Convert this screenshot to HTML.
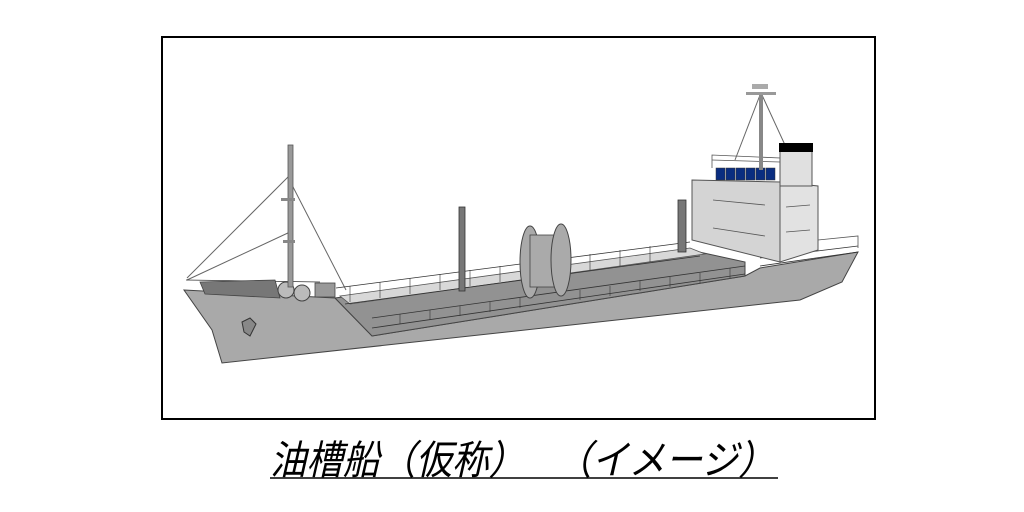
<!DOCTYPE html>
<html><head><meta charset="utf-8"><style>html,body{margin:0;padding:0;background:#fff;width:1024px;height:512px;overflow:hidden}</style></head>
<body>
<svg width="1024" height="512" viewBox="0 0 1024 512" xmlns="http://www.w3.org/2000/svg">
<rect x="162" y="37" width="713" height="382" fill="#fff" stroke="#000" stroke-width="2"/>
<g stroke="#666" stroke-width="1" fill="none">
<line x1="187" y1="278" x2="290" y2="175"/>
<line x1="187" y1="280" x2="290" y2="232"/>
<line x1="292" y1="185" x2="346" y2="290"/>
<line x1="760" y1="95" x2="735" y2="160"/>
<line x1="762" y1="95" x2="785" y2="145"/>
</g>
<polygon points="184,290 335,298 372,336 745,276 760,268 858,252 842,282 800,300 222,363 212,330" fill="#a9a9a9" stroke="#444" stroke-width="1"/>
<polygon points="335,298 690,250 745,262 745,276 372,336" fill="#929292" stroke="#444" stroke-width="1"/>
<polygon points="340,296 690,248 705,254 350,304" fill="#d8d8d8" stroke="#555" stroke-width="0.8"/>
<g stroke="#333" stroke-width="0.8" fill="none">
<polyline points="336,288 690,242"/>
<polyline points="345,304 700,256"/>
<polyline points="372,318 745,266"/>
<polyline points="372,328 745,274"/>
<polyline points="760,258 858,246"/>
<polyline points="760,266 858,252"/>
<polyline points="186,280 320,282"/>
</g>
<g stroke="#333" stroke-width="0.6">
<line x1="350" y1="286" x2="350" y2="302"/><line x1="380" y1="282" x2="380" y2="298"/><line x1="410" y1="278" x2="410" y2="294"/><line x1="440" y1="274" x2="440" y2="290"/><line x1="470" y1="270" x2="470" y2="286"/><line x1="500" y1="266" x2="500" y2="282"/><line x1="590" y1="254" x2="590" y2="270"/><line x1="620" y1="250" x2="620" y2="266"/><line x1="650" y1="246" x2="650" y2="262"/>
<line x1="400" y1="314" x2="400" y2="324"/><line x1="430" y1="310" x2="430" y2="320"/><line x1="460" y1="306" x2="460" y2="316"/><line x1="490" y1="302" x2="490" y2="312"/><line x1="520" y1="298" x2="520" y2="308"/><line x1="580" y1="290" x2="580" y2="300"/><line x1="610" y1="286" x2="610" y2="296"/><line x1="640" y1="281" x2="640" y2="291"/><line x1="670" y1="277" x2="670" y2="287"/><line x1="700" y1="273" x2="700" y2="283"/><line x1="730" y1="268" x2="730" y2="278"/>
</g>
<polygon points="200,282 275,280 280,298 205,294" fill="#777" stroke="#444" stroke-width="0.8"/>
<circle cx="286" cy="290" r="8" fill="#bbb" stroke="#444"/><circle cx="302" cy="293" r="8" fill="#bbb" stroke="#444"/>
<rect x="315" y="283" width="20" height="14" fill="#999" stroke="#444" stroke-width="0.8"/>
<path d="M242,322 l8,-4 l6,6 l-6,12 l-6,-4 z" fill="#888" stroke="#333"/>
<rect x="288" y="145" width="5" height="142" fill="#999" stroke="#555" stroke-width="0.8"/>
<rect x="281" y="198" width="14" height="3" fill="#888"/><rect x="283" y="240" width="12" height="3" fill="#888"/>
<rect x="459" y="207" width="6" height="84" fill="#777" stroke="#333" stroke-width="0.8"/>
<rect x="678" y="200" width="8" height="52" fill="#777" stroke="#333" stroke-width="0.8"/>
<ellipse cx="530" cy="262" rx="10" ry="36" fill="#aaa" stroke="#444"/>
<rect x="530" y="235" width="30" height="52" fill="#aaa" stroke="#444" stroke-width="0.8"/>
<ellipse cx="561" cy="260" rx="10" ry="36" fill="#aaa" stroke="#444"/>
<polygon points="692,180 780,182 780,262 692,240" fill="#d4d4d4" stroke="#555"/>
<polygon points="780,182 818,186 818,250 780,262" fill="#e2e2e2" stroke="#555"/>
<rect x="780" y="150" width="32" height="36" fill="#e0e0e0" stroke="#555"/>
<rect x="779" y="143" width="34" height="9" fill="#000"/>
<g fill="#0a2d80" stroke="#333" stroke-width="0.5">
<rect x="716" y="168" width="9" height="12"/><rect x="726" y="168" width="9" height="12"/><rect x="736" y="168" width="9" height="12"/><rect x="746" y="168" width="9" height="12"/><rect x="756" y="168" width="9" height="12"/><rect x="766" y="168" width="9" height="12"/>
</g>
<g stroke="#555" stroke-width="0.8" fill="none">
<polyline points="712,168 712,155 780,158 780,168"/><line x1="712" y1="160" x2="780" y2="162"/>
<line x1="713" y1="200" x2="765" y2="205"/><line x1="713" y1="228" x2="765" y2="236"/>
<line x1="786" y1="207" x2="810" y2="205"/><line x1="786" y1="232" x2="810" y2="230"/>
<polyline points="818,240 858,236 858,248"/>
</g>
<rect x="759" y="92" width="4" height="78" fill="#888"/>
<rect x="746" y="92" width="30" height="3" fill="#999"/><rect x="752" y="84" width="16" height="5" fill="#aaa"/>
<g font-family="Liberation Sans, Noto Sans CJK JP, sans-serif" font-style="italic" font-size="40" fill="#000">
<text x="270" y="474" textLength="255" lengthAdjust="spacingAndGlyphs">油槽船（仮称）</text>
<text x="555" y="474" textLength="220" lengthAdjust="spacingAndGlyphs">（イメージ）</text>
</g>
<line x1="270" y1="478" x2="778" y2="478" stroke="#000" stroke-width="1.5"/>
</svg>
</body></html>
